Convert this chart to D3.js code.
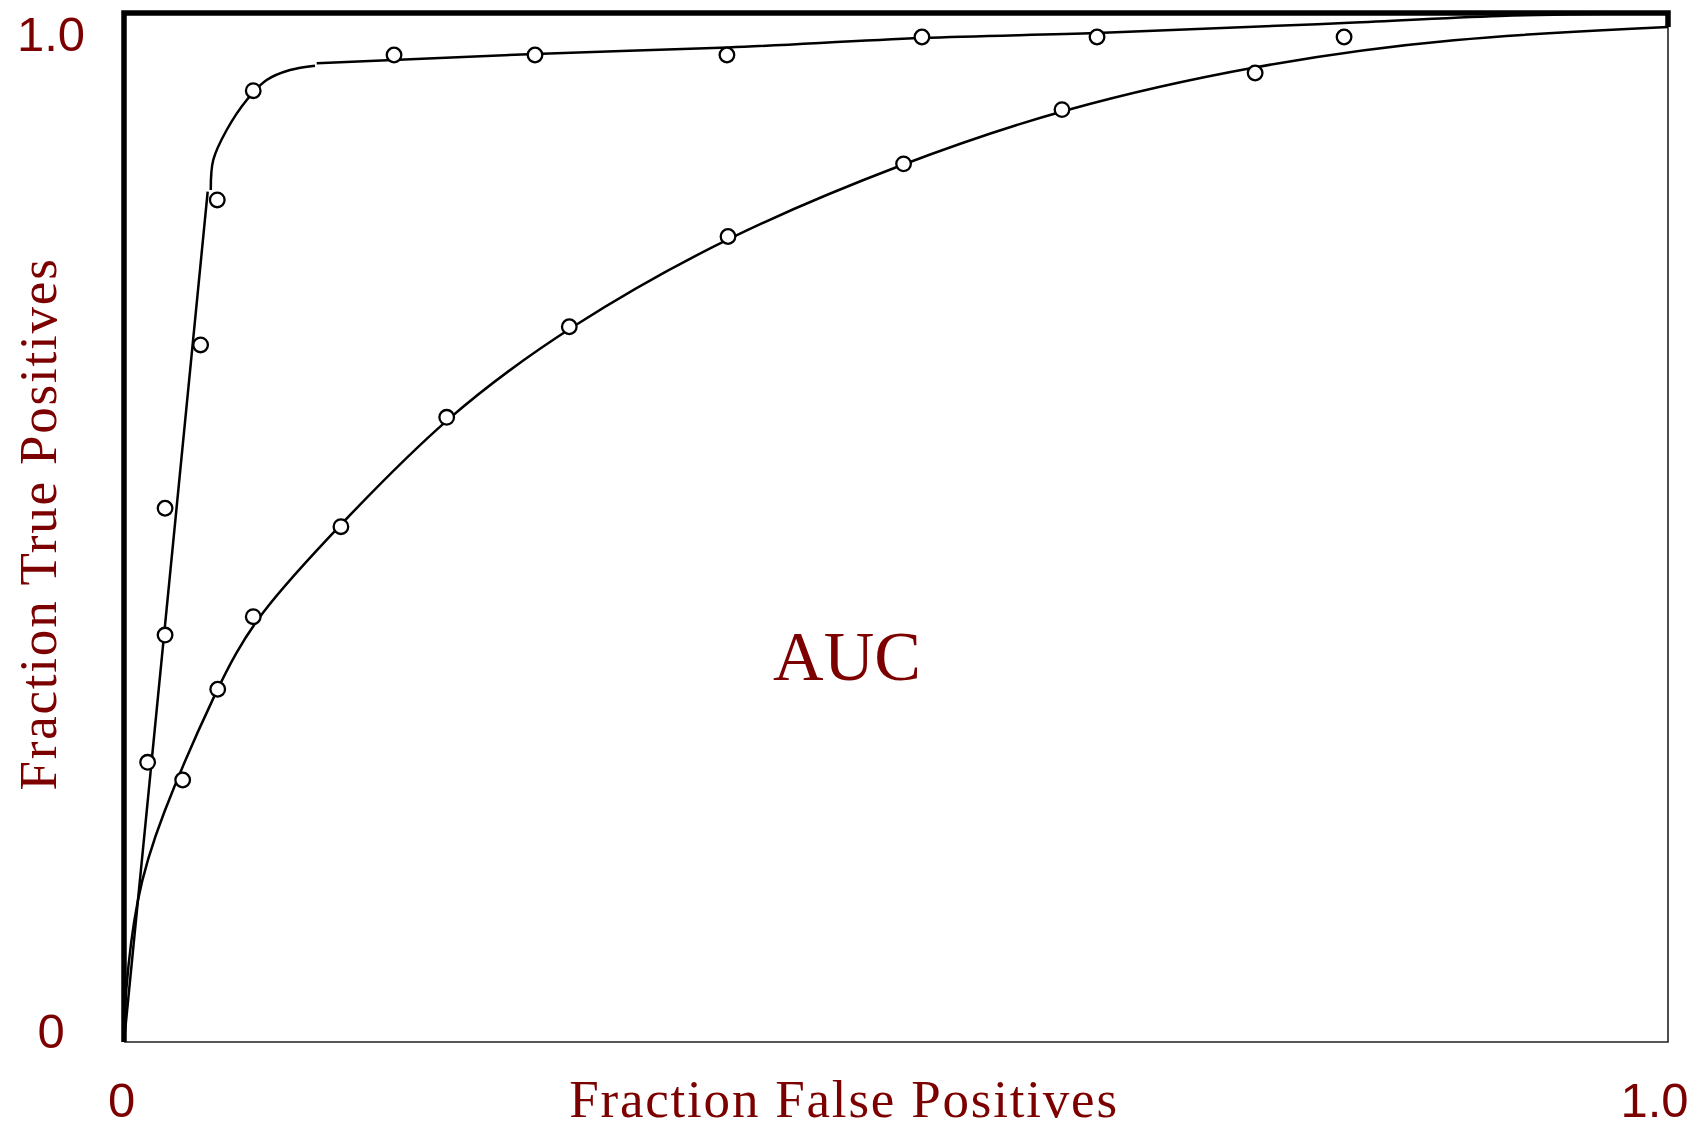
<!DOCTYPE html>
<html>
<head>
<meta charset="utf-8">
<script src="https://cdn.jsdelivr.net/npm/d3@7"></script>
<style>
  html, body { margin: 0; padding: 0; background: #fff; }
  svg { display: block; }
</style>
</head>
<body>
<svg id="chart" width="1701" height="1127"></svg>
<script>
// Observed operating points (false-positive fraction, true-positive fraction)
const goodPoints = [
  [0.0153, 0.2718], [0.0266, 0.3955], [0.0266, 0.5187], [0.0496, 0.6774],
  [0.0604, 0.8183], [0.0837, 0.9245], [0.1749, 0.9592], [0.2662, 0.9592],
  [0.3905, 0.9592], [0.5168, 0.9767], [0.6302, 0.9767], [0.7902, 0.9767]
];
const fairPoints = [
  [0.0380, 0.2546], [0.0607, 0.3428], [0.0837, 0.4133], [0.1405, 0.5008],
  [0.2090, 0.6071], [0.2884, 0.6951], [0.3912, 0.7828], [0.5049, 0.8534],
  [0.6075, 0.9061], [0.7326, 0.9417]
];

// Fitted ROC curve of the good classifier, drawn in three pieces
const goodFitRise = [[0, 0], [0.0542, 0.8263]];
const goodFitBend = [
  [0.0562, 0.8280], [0.0578, 0.8571], [0.0665, 0.8863], [0.0795, 0.9155],
  [0.0924, 0.9349], [0.1075, 0.9446], [0.1237, 0.9488]
];
const goodFitTail = [
  [0.1248, 0.9511], [0.2662, 0.9602], [0.3912, 0.9665], [0.5168, 0.9757],
  [0.6302, 0.9806], [0.7902, 0.9903], [0.8912, 0.9971], [1.0, 1.0]
];

// Fitted ROC curve of the weaker classifier (control points of a smooth B-spline)
const fairFit = [
  [0, 0], [0.0004, 0.0420], [0.0075, 0.1400], [0.0225, 0.2150],
  [0.0600, 0.3440], [0.0850, 0.4140], [0.1395, 0.5020], [0.2085, 0.6085],
  [0.2880, 0.6960], [0.3908, 0.7838], [0.5045, 0.8545], [0.6072, 0.9075],
  [0.7332, 0.9500], [0.8588, 0.9762], [1.0, 0.9864]
];

// Perfect classifier: straight up the left edge, then along the top
const perfect = [[0, 0], [0, 1], [1, 1], [1, 0.9864]];

const xTicks = [0, 1];
const xTickLabels = ["0", "1.0"];
const yTicks = [0, 1];
const yTickLabels = ["0", "1.0"];

const labelColor = "#7c0000";

const svg = d3.select("#chart");
const x = d3.scaleLinear().domain([0, 1]).range([124, 1668]);
const y = d3.scaleLinear().domain([0, 1]).range([1042, 13]);

const straight = d3.line().x(d => x(d[0])).y(d => y(d[1]));
const spline = d3.line().x(d => x(d[0])).y(d => y(d[1])).curve(d3.curveCatmullRom.alpha(0.5));
const monotone = d3.line().x(d => x(d[0])).y(d => y(d[1])).curve(d3.curveMonotoneX);
const basis = d3.line().x(d => x(d[0])).y(d => y(d[1])).curve(d3.curveBasis);

// Thin frame: bottom and right edges
svg.append("path")
  .attr("d", straight([[0, 0], [1, 0], [1, 0.9864]]))
  .attr("fill", "none")
  .attr("stroke", "#222")
  .attr("stroke-width", 1.6);

// Perfect classifier trace
svg.append("path")
  .attr("d", straight(perfect))
  .attr("fill", "none")
  .attr("stroke", "#000")
  .attr("stroke-width", 5.5)
  .attr("stroke-linejoin", "miter");

[
  [goodFitRise, straight],
  [goodFitBend, spline],
  [goodFitTail, monotone],
  [fairFit, basis]
].forEach(([data, gen]) => {
  svg.append("path")
    .attr("d", gen(data))
    .attr("fill", "none")
    .attr("stroke", "#000")
    .attr("stroke-width", 2.5);
});

// Operating points
svg.append("g")
  .selectAll("circle")
  .data(goodPoints.concat(fairPoints))
  .join("circle")
  .attr("cx", d => x(d[0]))
  .attr("cy", d => y(d[1]))
  .attr("r", 7.3)
  .attr("fill", "#fff")
  .attr("stroke", "#000")
  .attr("stroke-width", 2.3);

// Axis tick labels
const tickFont = "'Liberation Sans', Arial, Helvetica, sans-serif";
const xAxis = d3.axisBottom(x)
  .tickValues(xTicks)
  .tickFormat((d, i) => xTickLabels[i])
  .tickSize(0)
  .tickPadding(40);
const gx = svg.append("g").attr("transform", `translate(0,${y(0)})`).call(xAxis);
gx.select(".domain").remove();
gx.selectAll("text")
  .attr("font-family", tickFont)
  .attr("font-size", 49)
  .attr("fill", labelColor)
  .attr("dx", (d, i) => i === 0 ? -3 : -14);

const yAxis = d3.axisLeft(y)
  .tickValues(yTicks)
  .tickFormat((d, i) => yTickLabels[i])
  .tickSize(0)
  .tickPadding(0);
const gy = svg.append("g").attr("transform", `translate(${x(0)},0)`).call(yAxis);
gy.select(".domain").remove();
gy.selectAll("text")
  .attr("font-family", tickFont)
  .attr("font-size", 49)
  .attr("fill", labelColor)
  .attr("text-anchor", "middle")
  .attr("x", -73)
  .attr("dy", null)
  .attr("y", (d, i) => i === 0 ? 5 : 37);

// Axis titles and area annotation
const serif = "'Liberation Serif', 'Times New Roman', serif";
svg.append("text")
  .attr("x", (x(0) + x(1)) / 2 - 52)
  .attr("y", 1117)
  .attr("text-anchor", "middle")
  .attr("font-family", serif)
  .attr("font-size", 53)
  .attr("letter-spacing", 1.8)
  .attr("fill", labelColor)
  .text("Fraction False Positives");

svg.append("text")
  .attr("transform", `translate(56,${524}) rotate(-90)`)
  .attr("text-anchor", "middle")
  .attr("font-family", serif)
  .attr("font-size", 53)
  .attr("letter-spacing", 1.8)
  .attr("fill", labelColor)
  .text("Fraction True Positives");

svg.append("text")
  .attr("x", 847)
  .attr("y", 680)
  .attr("text-anchor", "middle")
  .attr("font-family", serif)
  .attr("font-size", 70)
  .attr("fill", labelColor)
  .text("AUC");
</script>
</body>
</html>
